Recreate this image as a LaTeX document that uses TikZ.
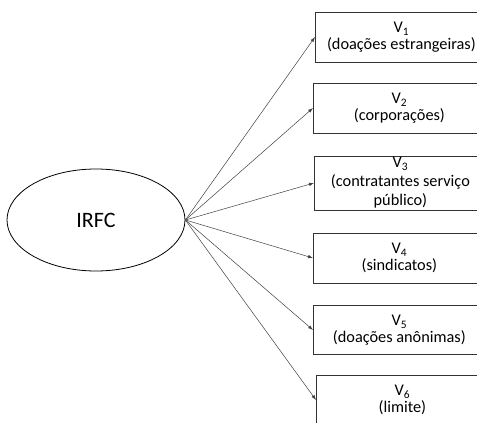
\documentclass[tikz,border=0pt]{standalone}
\usepackage{fontspec}
\setmainfont{Carlito}
\usetikzlibrary{arrows.meta,shapes.geometric}
\tikzset{
	varbox/.style={draw, line width=0.8pt, color=black!80, text=black, inner sep=0pt, minimum width=172pt, anchor=west, align=center, font=\fontsize{16.3}{16.5}\selectfont},
	latent/.style={draw, ellipse, line width=0.8pt, minimum width=178pt, minimum height=102pt, inner sep=0pt, font=\fontsize{22}{24}\selectfont},
	loading/.style={line width=0.5pt, color=black!75, -{Latex[length=5pt,width=3.5pt]}}
}

\begin{document}
\begin{tikzpicture}[x=1pt, y=-1pt]
			%%%%% START %%%%%
			
			\useasboundingbox (0, 0) rectangle (477, 423);
			\clip (0, 0) rectangle (477, 423);
			
			\node[latent] (irfc) at (96, 220) {IRFC};
			
			\node[varbox, minimum height=50pt] (v1) at (315, 37) {V\textsubscript{1}\\(doações estrangeiras)};
			\node[varbox, minimum height=50pt] (v2) at (313, 108) {V\textsubscript{2}\\(corporações)};
			\node[varbox, minimum height=54pt, font=\fontsize{16.3}{19}\selectfont] (v3) at (314, 183) {V\textsubscript{3}\\(contratantes serviço\\público)};
			\node[varbox, minimum height=50pt] (v4) at (313, 258) {V\textsubscript{4}\\(sindicatos)};
			\node[varbox, minimum height=49pt] (v5) at (313, 330) {V\textsubscript{5}\\(doações anônimas)};
			\node[varbox, minimum height=50pt] (v6) at (316, 400) {V\textsubscript{6}\\(limite)};
			
			\foreach \v in {v1,v2,v3,v4,v5,v6}
				\draw[loading] (irfc.east) -- (\v.west);
			
			%%%%% END %%%%%
\end{tikzpicture}
\end{document}
